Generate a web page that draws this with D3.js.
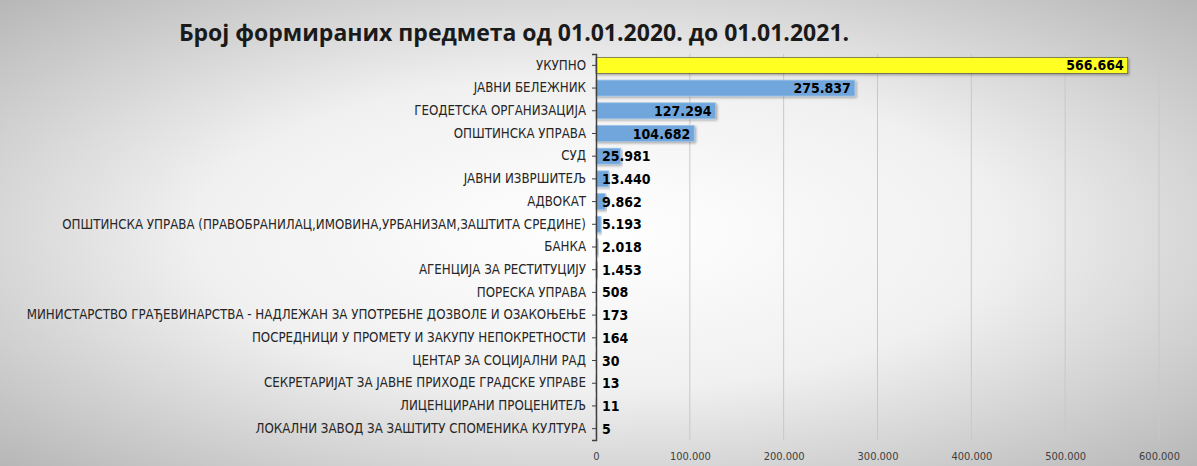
<!DOCTYPE html>
<html><head><meta charset="utf-8">
<script src="https://cdn.jsdelivr.net/npm/d3@7"></script>
<style>body{margin:0;}svg{display:block;}</style>
</head><body><div id="chart"></div>
<script>
const categories = ['УКУПНО','ЈАВНИ БЕЛЕЖНИК','ГЕОДЕТСКА ОРГАНИЗАЦИЈА','ОПШТИНСКА УПРАВА','СУД','ЈАВНИ ИЗВРШИТЕЉ','АДВОКАТ',
  'ОПШТИНСКА УПРАВА (ПРАВОБРАНИЛАЦ,ИМОВИНА,УРБАНИЗАМ,ЗАШТИТА  СРЕДИНЕ)','БАНКА','АГЕНЦИЈА ЗА РЕСТИТУЦИЈУ','ПОРЕСКА  УПРАВА',
  'МИНИСТАРСТВО  ГРАЂЕВИНАРСТВА  - НАДЛЕЖАН ЗА УПОТРЕБНЕ ДОЗВОЛЕ И ОЗАКОЊЕЊЕ','ПОСРЕДНИЦИ  У ПРОМЕТУ И ЗАКУПУ НЕПОКРЕТНОСТИ',
  'ЦЕНТАР ЗА СОЦИЈАЛНИ  РАД','СЕКРЕТАРИЈАТ  ЗА ЈАВНЕ ПРИХОДЕ ГРАДСКЕ УПРАВЕ','ЛИЦЕНЦИРАНИ  ПРОЦЕНИТЕЉ','ЛОКАЛНИ ЗАВОД ЗА ЗАШТИТУ СПОМЕНИКА КУЛТУРА'];
const values = [566664,275837,127294,104682,25981,13440,9862,5193,2018,1453,508,173,164,30,13,11,5];
const xTicks = [0,100000,200000,300000,400000,500000,600000];
const title = 'Број формираних предмета од 01.01.2020. до 01.01.2021.';

const W = 1197, H = 466;
const fmt = v => d3.format(',')(v).replace(/,/g,'.');
const svg = d3.select('#chart').append('svg').attr('width',W).attr('height',H);
const defs = svg.append('defs');
const rg = defs.append('radialGradient').attr('id','bg').attr('cx','50%').attr('cy','50%').attr('r','75%');
rg.append('stop').attr('offset','0%').attr('stop-color','#ffffff');
rg.append('stop').attr('offset','45%').attr('stop-color','#f0f0f0');
rg.append('stop').attr('offset','100%').attr('stop-color','#b0b0b0');
svg.append('rect').attr('width',W).attr('height',H).attr('fill','url(#bg)');
const sh = defs.append('filter').attr('id','sh').attr('x','-5%').attr('y','-30%').attr('width','115%').attr('height','180%');
sh.append('feDropShadow').attr('dx',1.5).attr('dy',1.5).attr('stdDeviation',1).attr('flood-color','#000').attr('flood-opacity',0.3);

const x = d3.scaleLinear().domain([0,600000]).range([596,1159]);
const y = d3.scaleBand().domain(categories).range([54,440]).paddingInner(0.3).paddingOuter(0.15);

svg.append('g').selectAll('line').data(xTicks.slice(1)).join('line')
  .attr('x1',d=>x(d)).attr('x2',d=>x(d)).attr('y1',54).attr('y2',440)
  .attr('stroke','#c8c8c8').attr('stroke-width',1);

svg.append('g').attr('transform','translate(0,440)')
  .call(d3.axisBottom(x).tickValues(xTicks).tickFormat(fmt).tickSize(0).tickPadding(12))
  .call(g=>g.select('.domain').remove())
  .selectAll('text').attr('font-family','"Liberation Sans Narrow","DejaVu Sans Condensed",sans-serif')
  .attr('font-size',11).attr('fill','#404040');

svg.append('g').selectAll('rect').data(values).join('rect')
  .attr('x',x(0)).attr('y',(d,i)=>y(categories[i]))
  .attr('width',d=>Math.max(x(d)-x(0),0.6)).attr('height',y.bandwidth())
  .attr('fill',(d,i)=>i===0?'#ffff20':'#6fa6dc')
  .attr('stroke',(d,i)=>i===0?'#444':'#9cc3e8').attr('stroke-width',(d,i)=>i===0?0.6:0.8)
  .attr('filter','url(#sh)');

svg.append('g').attr('transform','translate(596,0)')
  .call(d3.axisLeft(y).tickSize(4).tickPadding(6))
  .call(g=>g.select('.domain').attr('stroke','#404040').attr('stroke-width',1.5))
  .call(g=>g.selectAll('line').attr('stroke','#404040'))
  .selectAll('text').attr('font-family','"Liberation Sans Narrow","DejaVu Sans Condensed",sans-serif')
  .attr('font-size',13.2).attr('fill','#262626');

svg.append('g').selectAll('text').data(values).join('text')
  .attr('y',(d,i)=>y(categories[i])+y.bandwidth()/2).attr('dy','0.36em')
  .attr('text-anchor','end').attr('font-family','"DejaVu Sans Condensed",sans-serif')
  .attr('font-weight','bold').attr('font-size',14).attr('fill','#000')
  .text(fmt)
  .attr('x',function(d){const w=this.getComputedTextLength();return Math.max(x(d)-4,x(0)+6+w);});

svg.append('text').attr('x',514).attr('y',41).attr('text-anchor','middle')
  .attr('font-family','"Open Sans","DejaVu Sans",sans-serif').attr('font-weight','bold')
  .attr('font-size',23).attr('fill','#1a1a1a').text(title);
</script></body></html>
